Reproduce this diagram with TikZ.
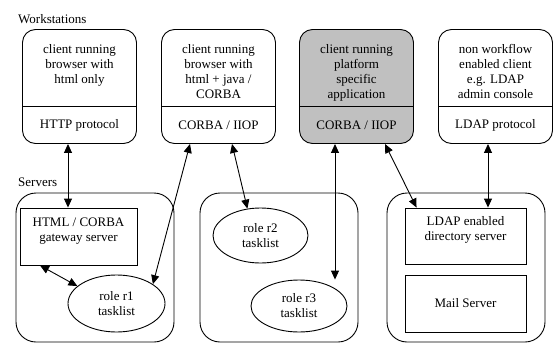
\documentclass[tikz,border=0pt]{standalone}
\usepackage{fontspec}
\setmainfont{Liberation Serif}
\usepackage{xcolor}
\usetikzlibrary{shapes.geometric,arrows.meta,calc}
\definecolor{wsgray}{HTML}{C0C0C0}

\begin{document}
\begin{tikzpicture}[x=1pt, y=-1pt,
		wsbox/.style={draw, line width=0.9pt, rounded corners=13pt, minimum width=114pt, minimum height=114pt},
		group/.style={draw, line width=0.9pt, rounded corners=20pt, minimum width=158pt, minimum height=149pt},
		srvbox/.style={draw, line width=0.9pt, minimum width=121pt, minimum height=57pt},
		role/.style={draw, line width=0.9pt, ellipse, inner sep=0pt, align=center},
		wstext/.style={anchor=north, inner sep=0pt, align=center},
		tw/.style={line width=0.9pt, {Triangle[length=9pt,width=8pt]}-{Triangle[length=9pt,width=8pt]}},
	]
	\fontsize{13pt}{15pt}\selectfont
	\useasboundingbox (0,0) rectangle (557,343);
	\node[anchor=base west, inner sep=0pt] (wslabel) at (18,23) {Workstations};
	\node[anchor=base west, inner sep=0pt] (srvlabel) at (18,186) {Servers};
	% workstations
	\node[wsbox] (ws1) at (79.5,86.5) {};
	\node[wsbox] (ws2) at (218.5,86.5) {};
	\node[wsbox, fill=wsgray] (ws3) at (356.5,86.5) {};
	\node[wsbox] (ws4) at (495.5,86.5) {};
	\foreach \w in {ws1,ws2,ws3,ws4}
		\draw[line width=0.9pt] ([yshift=-77pt]\w.north west) -- ([yshift=-77pt]\w.north east);
	\node[wstext] (ws1top) at (79.5,44) {client running\\browser with\\html only};
	\node[wstext] (ws2top) at (218.5,44) {client running\\browser with\\html + java /\\CORBA};
	\node[wstext] (ws3top) at (356.5,44) {client running\\platform\\specific\\application};
	\node[wstext] (ws4top) at (495.5,44) {non workflow\\enabled client\\e.g. LDAP\\admin console};
	\node (ws1bot) at (79.5,125) {HTTP protocol};
	\node (ws2bot) at (218.5,125) {CORBA / IIOP};
	\node (ws3bot) at (356.5,125) {CORBA / IIOP};
	\node (ws4bot) at (495.5,125) {LDAP protocol};
	% servers
	\node[group] (g1) at (95,267.5) {};
	\node[group] (g2) at (279,267.5) {};
	\node[group] (g3) at (466,267.5) {};
	\node[srvbox, minimum width=117pt] (gw) at (78.5,236.5) {};
	\node[wstext] (gwtxt) at (78.5,218) {HTML / CORBA\\gateway server};
	\node[srvbox, minimum height=56pt] (dir) at (465.5,236) {};
	\node[wstext] (dirtxt) at (465.5,216) {LDAP enabled\\directory server};
	\node[srvbox] (mail) at (465.5,303.5) {Mail Server};
	\node[role, minimum width=97pt, minimum height=57pt] (r1) at (116.5,303.5) {role r1\\tasklist};
	\node[role, minimum width=95pt, minimum height=55pt] (r2) at (260.5,235.5) {role r2\\tasklist};
	\node[role, minimum width=96pt, minimum height=52pt] (r3) at (299,306) {role r3\\tasklist};
	% connections
	\draw[tw] ([xshift=-11.5pt]ws1.south) -- ([xshift=-10.5pt]gw.north);
	\draw[tw] ([xshift=-38.5pt]gw.south) -- (r1.156);
	\draw[tw] ([xshift=-28.5pt]ws2.south) -- (r1.28);
	\draw[tw] ([xshift=13.5pt]ws2.south) -- (r2.116);
	\coordinate (ws3out) at ([xshift=-21.5pt]ws3.south);
	\draw[tw] (ws3out) -- (ws3out |- r3.north);
	\draw[tw] ([xshift=28.5pt]ws3.south) -- ([xshift=12pt]dir.north west);
	\draw[tw] ([xshift=-7.5pt]ws4.south) -- ([xshift=22.5pt]dir.north);
\end{tikzpicture}
\end{document}
